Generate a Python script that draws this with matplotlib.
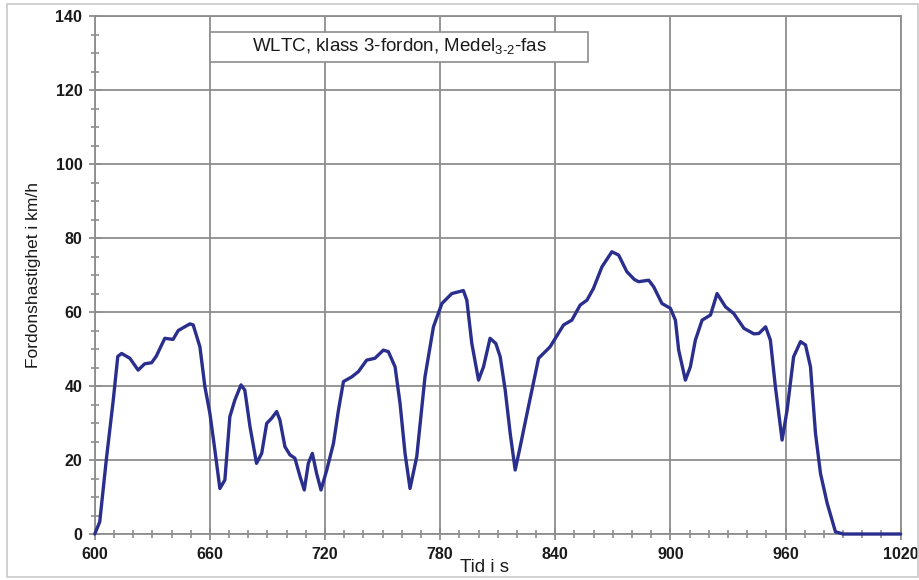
import matplotlib
matplotlib.use("Agg")
import matplotlib.pyplot as plt
from matplotlib.patches import Rectangle

plt.rcParams["font.family"] = ["Liberation Sans", "DejaVu Sans"]
plt.rcParams["mathtext.fontset"] = "custom"
plt.rcParams["mathtext.rm"] = "Liberation Sans"

time_s = [600, 602.6, 606, 609.6, 612, 614, 618.3, 622.6, 626, 629.6, 632, 636.5,
          640.8, 643.5, 649.6, 651.3, 654.8, 657.4, 660, 662.6, 665.2, 667.8, 670.4,
          673, 676.2, 678.2, 680.9, 684.3, 687, 689.6, 692.2, 694.8, 696.5, 699.1,
          701.7, 704.3, 707, 709.2, 711.3, 713.4, 715.6, 717.9, 720.9, 724.4, 727,
          729.6, 734, 737.4, 741.7, 746, 750.4, 753, 756.5, 759.1, 761.7, 764.3,
          767.8, 772.1, 776.5, 780.9, 786.1, 792.1, 793.9, 796.5, 800, 802.6, 806,
          809, 811.3, 813.9, 816.5, 819.1, 821.7, 826, 831.3, 837.3, 844.3, 848.6,
          853, 856.5, 859.9, 864.3, 869.5, 873, 877.3, 881.2, 883.4, 888.7, 891.3,
          895.6, 900, 902.6, 904.3, 907.8, 910.4, 913, 916.5, 920.9, 924.3, 928.7,
          933, 938.3, 943.5, 946.1, 949.6, 952.1, 954.7, 958.2, 960.8, 964.2, 967.8,
          970.4, 973, 975.6, 978.2, 981.7, 986, 990, 1000, 1010, 1020]
speed_kmh = [0, 3.3, 20, 36, 48, 48.8, 47.5, 44.3, 46, 46.3, 48, 52.9,
             52.6, 55, 56.8, 56.5, 50.6, 39.8, 32.6, 22.7, 12.3, 14.6, 31.7,
             36.2, 40.3, 38.9, 29, 19.1, 21.8, 29.9, 31.3, 33.1, 30.8, 23.6,
             21.4, 20.5, 15.5, 11.9, 19.1, 21.8, 16.4, 11.9, 17.3, 24.5, 33.5,
             41.2, 42.5, 43.9, 47, 47.5, 49.7, 49.3, 45.2, 35.3, 21.8, 12.3,
             20.9, 42.5, 56, 62.3, 65, 65.8, 63.2, 51.5, 41.6, 45.2, 52.9,
             51.5, 47.9, 38.9, 27.2, 17.3, 23.6, 34.4, 47.5, 50.6, 56.5, 57.8,
             61.9, 63.2, 66.4, 72.2, 76.3, 75.4, 70.9, 68.8, 68.2, 68.6, 66.8,
             62.3, 61, 57.8, 49.7, 41.6, 45.2, 52.4, 57.8, 59.2, 65, 61.4,
             59.6, 55.6, 54.1, 54.2, 56, 52.4, 39.8, 25.4, 33.5, 47.9, 52,
             51.1, 45.2, 27.2, 16.4, 8.3, 0.6, 0, 0, 0, 0]

x_ticks = [600, 660, 720, 780, 840, 900, 960, 1020]
y_ticks = [0, 20, 40, 60, 80, 100, 120, 140]
title_text = "WLTC, klass 3-fordon, Medel$_{3\\text{-}2}$-fas"
x_label = "Tid i s"
y_label = "Fordonshastighet i km/h"

fig = plt.figure(figsize=(9.2, 5.8), dpi=100)
ax = fig.add_axes([0.103, 0.0793, 0.876, 0.893])

grid_c = "#8e8e8e"
ax.plot(time_s, speed_kmh, color="#2a2e8c", linewidth=2.4, solid_joinstyle="round",
        solid_capstyle="round", zorder=3, clip_on=False)

ax.set_xlim(600, 1020)
ax.set_ylim(0, 140)
ax.set_xticks(x_ticks)
ax.set_yticks(y_ticks)
ax.set_xticks(range(600, 1021, 10), minor=True)
ax.set_yticks(range(0, 141, 5), minor=True)
ax.grid(True, which="major", color=grid_c, linewidth=1.3, zorder=1)
for s in ax.spines.values():
    s.set_color(grid_c)
    s.set_linewidth(1.3)
ax.tick_params(which="major", direction="inout", length=8, width=1.3, color=grid_c,
               labelsize=11.5, labelcolor="#1a1a1a", pad=5)
ax.tick_params(which="minor", direction="inout", length=6, width=1.2, color=grid_c)
for lab in ax.get_xticklabels() + ax.get_yticklabels():
    lab.set_fontweight("bold")

fig.text(0.527, 0.022, x_label, fontsize=13.5, ha="center", va="center",
         color="#1a1a1a")
ax.set_ylabel(y_label, fontsize=12.5, labelpad=10, color="#1a1a1a")

# title box
ax.add_patch(Rectangle((660, 127.6), 197.2, 8.1, facecolor="white", edgecolor=grid_c,
                       linewidth=1.2, zorder=5))
ax.text(758.6, 131.6, title_text, fontsize=13.5, ha="center", va="center", zorder=6,
        color="#1a1a1a")

fig.patches.append(Rectangle((0.008, 0.005), 0.99, 0.988, transform=fig.transFigure,
                             fill=False, edgecolor="#c8c8c8", linewidth=1.2))

fig.savefig("out.png", dpi=100)
